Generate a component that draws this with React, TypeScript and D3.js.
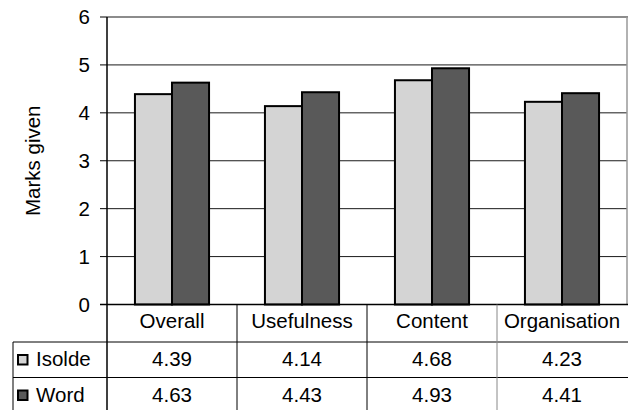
import React from 'react'
import * as d3 from 'd3'

const categories = ['Overall', 'Usefulness', 'Content', 'Organisation']
const seriesNames = ['Isolde', 'Word']
const isoldeValues = [4.39, 4.14, 4.68, 4.23]
const wordValues = [4.63, 4.43, 4.93, 4.41]
const yTicks = [0, 1, 2, 3, 4, 5, 6]

const colors: Record<string, string> = { Isolde: '#d4d4d4', Word: '#595959' }
const font = 'Liberation Sans, Arial, Helvetica, sans-serif'
const fs = 20.5

const W = 628
const H = 410
const left = 107
const right = 627
const top = 17
const bottom = 304.5
const row1 = 342
const row2 = 377.5
const rowEnd = 413
const tableLeft = 13

const App = () => {
  const series = [
    { name: seriesNames[0], values: isoldeValues },
    { name: seriesNames[1], values: wordValues },
  ]

  const x = d3.scaleBand<string>()
    .domain(categories)
    .range([left, right])
    .paddingInner(0.43)
    .paddingOuter(0.215)

  const x1 = d3.scaleBand<string>()
    .domain(seriesNames)
    .range([0, x.bandwidth()])

  const y = d3.scaleLinear().domain([0, 6]).range([bottom, top])

  const step = x.step()
  // cell edges of the data table follow the category slots
  const cellStart = (c: string) => (x(c) as number) - (step - x.bandwidth()) / 2

  return (
    <svg width={W} height={H} style={{ position: 'absolute', left: 0, top: 0 }} fontFamily={font}>
      {/* gridlines */}
      {yTicks.slice(1, 6).map(t => (
        <line key={'g' + t} x1={left} x2={right} y1={y(t)} y2={y(t)} stroke="#1a1a1a" strokeWidth={1} />
      ))}
      {/* top and right frame */}
      <line x1={left} x2={right + 1} y1={y(6)} y2={y(6)} stroke="#8c8c8c" strokeWidth={2} />
      <line x1={right} x2={right} y1={y(6)} y2={bottom} stroke="#999" strokeWidth={1.5} />

      {/* bars */}
      {series.map(s => s.values.map((v, i) => {
        const c = categories[i]
        return (
          <rect key={s.name + c}
            x={(x(c) as number) + (x1(s.name) as number)}
            y={y(v)}
            width={x1.bandwidth()}
            height={bottom - y(v)}
            fill={colors[s.name]}
            stroke="#000"
            strokeWidth={2}
          />
        )
      }))}

      {/* y axis */}
      <line x1={left} x2={left} y1={top} y2={rowEnd} stroke="#000" strokeWidth={1.5} />
      {yTicks.map(t => (
        <g key={'t' + t}>
          <line x1={left - 7} x2={left} y1={y(t)} y2={y(t)} stroke="#000" strokeWidth={1} />
          <text x={90} y={y(t)} dy="0.36em" textAnchor="end" fontSize={fs} fill="#000">{t}</text>
        </g>
      ))}
      <text transform={`translate(40,${(top + bottom) / 2}) rotate(-90)`} textAnchor="middle"
        fontSize={fs} fill="#000">Marks given</text>

      {/* data table */}
      <line x1={left - 7} x2={right + 1} y1={bottom} y2={bottom} stroke="#000" strokeWidth={1.5} />
      <line x1={tableLeft} x2={W} y1={row1} y2={row1} stroke="#000" strokeWidth={1} />
      <line x1={tableLeft} x2={W} y1={row2} y2={row2} stroke="#000" strokeWidth={1} />
      <line x1={tableLeft} x2={tableLeft} y1={row1} y2={rowEnd} stroke="#000" strokeWidth={1} />
      {categories.slice(1).map((c, i) => (
        <line key={'v' + c} x1={cellStart(c)} x2={cellStart(c)} y1={bottom} y2={rowEnd}
          stroke={i === 2 ? '#888' : '#000'} strokeWidth={1} />
      ))}
      {categories.map(c => (
        <text key={'h' + c} x={cellStart(c) + step / 2} y={328} textAnchor="middle" fontSize={fs} fill="#000">{c}</text>
      ))}
      {series.map((s, si) => {
        const base = si === 0 ? 366 : 401.5
        const rowTop = si === 0 ? row1 : row2
        return (
          <g key={'r' + s.name}>
            <rect x={18} y={rowTop + 13} width={9.5} height={9.5} fill={colors[s.name]} stroke="#000" strokeWidth={2} />
            <text x={36} y={base} fontSize={fs} fill="#000">{s.name}</text>
            {s.values.map((v, i) => (
              <text key={i} x={cellStart(categories[i]) + step / 2} y={base} textAnchor="middle"
                fontSize={fs} fill="#000">{v.toFixed(2)}</text>
            ))}
          </g>
        )
      })}
    </svg>
  )
}

export default App
